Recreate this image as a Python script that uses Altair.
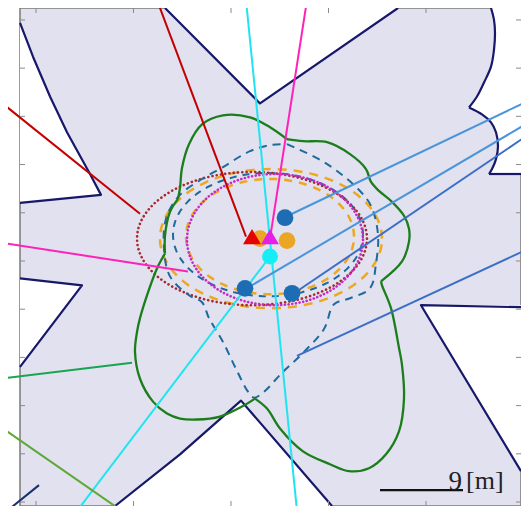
import altair as alt
import pandas as pd
import numpy as np

# ---------------- data (metres, origin at lower-left corner of frame) ----------------
X_MAX = 50.1
Y_MAX = 50.1

# white notches cut into the lavender free-space region
notch_top_x = [14.5, 24.0, 37.8]
notch_top_y = [50.1, 40.5, 50.1]
notch_bot_x = [9.5, 16.0, 22.1, 31.2]
notch_bot_y = [0.0, 5.2, 10.6, 0.0]
notch_tl_y = [30.5, 31.3, 33.4, 37.6, 41.2, 45.2, 48.6]
notch_tl_x = [0.0, 8.1, 7.0, 4.7, 3.0, 1.3, 0.0]
notch_l_y = [14.0, 22.2, 22.9]
notch_l_x = [0.0, 6.2, 0.0]
notch_r_y = [3.5, 20.2]
notch_r_x = [50.1, 40.1]
notch_tr_y = [33.4, 33.9, 34.9, 36.2, 37.6, 38.6, 39.4, 40.1, 41.2, 42.6, 44.2, 45.9, 47.6, 48.9, 50.1]
notch_tr_x = [46.9, 47.2, 47.6, 47.8, 47.6, 47.1, 46.2, 44.9, 45.7, 46.4, 47.1, 47.4, 47.5, 47.4, 47.1]

# navy boundary polylines of the region
edge_tl_x = [0.0, 1.3, 3.0, 4.7, 7.0, 8.1, 0.0]
edge_tl_y = [48.6, 45.2, 41.2, 37.6, 33.4, 31.3, 30.5]
edge_l_x = [0.0, 6.2, 0.0]
edge_l_y = [22.9, 22.2, 14.0]
edge_b_x = [9.5, 16.0, 22.1, 31.2]
edge_b_y = [0.0, 5.2, 10.6, 0.0]
edge_r_x = [50.1, 40.1, 50.1]
edge_r_y = [20.0, 20.2, 3.5]
edge_t_x = [14.5, 24.0, 37.8]
edge_t_y = [50.1, 40.5, 50.1]
edge_tr1_x = [47.1, 47.4, 47.5, 47.4, 47.1, 46.4, 45.7, 44.9]
edge_tr1_y = [50.1, 48.9, 47.6, 45.9, 44.2, 42.6, 41.2, 40.1]
edge_tr2_x = [44.9, 46.2, 47.1, 47.6, 47.8, 47.6, 47.2, 46.9]
edge_tr2_y = [40.1, 39.4, 38.6, 37.6, 36.2, 34.9, 33.9, 33.4]
edge_tr3_x = [46.9, 50.1]
edge_tr3_y = [33.4, 33.4]

# green flower-shaped contour (closed) and indices of its corners
green_x = [20.3, 23.0, 25.0, 26.7, 28.3, 30.7, 33.0, 34.6, 35.1, 35.9, 37.2, 38.4, 38.9, 38.9, 38.2,
           36.1, 36.2, 37.1, 37.9, 38.2, 38.4, 37.9, 36.6, 34.9, 32.9, 31.0, 28.3, 26.0, 24.7, 23.5,
           22.2, 20.0, 17.7, 16.0, 14.7, 13.3, 12.0, 11.5, 11.7, 12.0, 12.7, 13.7, 14.5, 14.5, 15.0,
           15.8, 16.0, 16.2, 16.9, 18.2, 20.3]
green_y = [39.3, 39.1, 38.1, 36.9, 36.7, 36.6, 35.4, 33.9, 32.6, 31.7, 30.6, 29.2, 27.9, 26.6, 24.6,
           22.6, 22.2, 19.9, 15.9, 14.2, 10.8, 7.5, 5.2, 3.8, 3.5, 4.2, 5.5, 7.8, 9.8, 10.8,
           10.0, 9.0, 8.7, 8.8, 9.3, 10.5, 12.8, 15.5, 17.5, 18.9, 21.2, 23.9, 25.4, 27.2, 29.6,
           30.9, 32.0, 34.0, 36.4, 38.4, 39.3]
green_corners = [3, 15, 29, 42, 45]

# blue dashed contour with lower lobe
bluec_x = [26.7, 29.7, 31.7, 33.8, 35.1, 35.8, 35.6, 35.0, 33.0, 31.4, 30.4, 28.4, 26.3, 24.3, 23.4,
           22.8, 21.6, 20.3, 18.9, 18.2, 16.9, 15.0, 14.4, 14.6, 15.9, 18.2, 20.3, 23.0, 25.0, 26.7]
bluec_y = [36.4, 35.0, 33.7, 31.9, 30.2, 27.3, 24.4, 21.9, 20.9, 20.3, 17.8, 15.5, 13.5, 11.4, 10.9,
           11.5, 13.8, 16.5, 18.9, 20.5, 21.2, 23.1, 25.9, 28.9, 31.2, 32.9, 34.1, 35.7, 36.3, 36.4]

# uncertainty ellipses: centre and semi-axes
ell_names = ["blue_in", "orange_in", "orange_out", "red", "magenta"]
ell_cx = [24.8, 25.0, 25.1, 23.2, 25.5]
ell_cy = [27.3, 27.1, 26.9, 26.9, 26.8]
ell_rx = [9.5, 8.4, 11.1, 11.5, 8.8]
ell_ry = [6.2, 5.8, 7.0, 6.7, 6.6]

# leader lines: start and end
lead_names = ["red_top", "red_left", "mag_top", "mag_left", "cyan_vert", "cyan_diag",
              "green", "lime", "blue1", "blue2", "blue3", "blue4", "stub"]
lead_x0 = [22.6, -2.0, 25.0, -2.0, 22.6, 25.0, -2.0, -2.0, 27.0, 23.0, 27.7, 27.7, -1.3]
lead_y0 = [27.1, 40.7, 26.9, 26.5, 50.9, 25.1, 12.8, 8.0, 29.3, 22.1, 21.6, 15.1, -0.5]
lead_x1 = [13.7, 12.0, 28.7, 16.8, 27.7, 5.7, 11.2, 10.2, 50.9, 50.9, 50.9, 50.9, 1.9]
lead_y1 = [50.9, 29.4, 50.9, 23.6, -0.5, -0.5, 14.4, -0.5, 40.8, 38.6, 37.4, 25.9, 2.1]

# markers
blue_dot_x = [26.5, 22.5, 27.2]
blue_dot_y = [29.0, 21.9, 21.4]
orange_dot_x = [24.0, 26.7]
orange_dot_y = [26.9, 26.7]
red_tri_x, red_tri_y = [23.2], [27.1]
mag_tri_x, mag_tri_y = [25.0], [27.1]
cyan_dot_x, cyan_dot_y = [25.0], [25.1]

# scale bar
bar_x = [36.0, 44.3]
bar_y = [1.6, 1.6]
bar_label_num = "9"
bar_label_unit = "[m]"

# frame ticks
xticks = [1.6, 11.35, 21.1, 30.85, 40.6]
yticks = [48.9, 44.05, 39.2, 34.35, 29.5, 24.65, 19.8, 14.95, 10.1, 5.25, 0.4]

# ---------------- helpers ----------------
xs = alt.Scale(domain=[0, X_MAX], nice=False, zero=False)
ys = alt.Scale(domain=[0, Y_MAX], nice=False, zero=False)


def X(f="x"):
    return alt.X(f"{f}:Q", scale=xs, axis=None)


def Y(f="y"):
    return alt.Y(f"{f}:Q", scale=ys, axis=None)


def poly_df(xv, yv):
    return pd.DataFrame({"x": list(xv), "y": list(yv), "i": range(len(xv))})


def line_layer(df, color, width=2.0, dash=None, cap="butt", interp="linear", detail=False):
    kw = dict(color=color, strokeWidth=width, strokeCap=cap, clip=False, interpolate=interp,
              strokeJoin="round")
    if dash is not None:
        kw["strokeDash"] = dash
    enc = dict(x=X(), y=Y(), order="i:Q")
    if detail:
        enc["detail"] = "seg:N"
    return alt.Chart(df).mark_line(**kw).encode(**enc)


NAVY = "#17186a"
WHITE = "#ffffff"

layers = []

# white notches
layers.append(alt.Chart(pd.DataFrame({"x": notch_top_x, "y": notch_top_y})).mark_area(
    color=WHITE, opacity=1).encode(x=X(), y=Y(), y2=alt.datum(Y_MAX)))
layers.append(alt.Chart(pd.DataFrame({"x": notch_bot_x, "y": notch_bot_y})).mark_area(
    color=WHITE, opacity=1).encode(x=X(), y=Y(), y2=alt.datum(0)))
for nx, ny, base, ip in [(notch_tl_x, notch_tl_y, 0, "linear"), (notch_l_x, notch_l_y, 0, "linear"),
                         (notch_r_x, notch_r_y, X_MAX, "linear"), (notch_tr_x, notch_tr_y, X_MAX, "linear")]:
    layers.append(alt.Chart(pd.DataFrame({"x": nx, "y": ny})).mark_area(
        color=WHITE, opacity=1, orient="horizontal", interpolate=ip).encode(x=X(), y=Y(), x2=alt.datum(base)))

# navy edges
for ex, ey, ip in [(edge_tl_x, edge_tl_y, "linear"), (edge_l_x, edge_l_y, "linear"),
                   (edge_b_x, edge_b_y, "linear"), (edge_r_x, edge_r_y, "linear"),
                   (edge_t_x, edge_t_y, "linear"), (edge_tr1_x, edge_tr1_y, "catmull-rom"),
                   (edge_tr2_x, edge_tr2_y, "catmull-rom"), (edge_tr3_x, edge_tr3_y, "linear")]:
    layers.append(line_layer(poly_df(ex, ey), NAVY, 2.2, interp=ip))

# ellipses
ell_style = {
    "blue_in": dict(color="#1f6a9c", width=2.0, dash=[7, 6], cap="butt"),
    "orange_in": dict(color="#eda822", width=2.5, dash=[8, 7], cap="butt"),
    "orange_out": dict(color="#eda822", width=2.5, dash=[9, 7], cap="butt"),
    "red": dict(color="#a82a2e", width=2.6, dash=[0.1, 4.2], cap="round"),
    "magenta": dict(color="#c62ac6", width=2.6, dash=[0.1, 3.6], cap="round"),
}
t = np.linspace(0, 2 * np.pi, 121)
for name, cx, cy, rx, ry in zip(ell_names, ell_cx, ell_cy, ell_rx, ell_ry):
    df = poly_df(cx + rx * np.cos(t), cy + ry * np.sin(t))
    s = ell_style[name]
    layers.append(line_layer(df, s["color"], s["width"], s["dash"], s["cap"]))

# blue dashed contour
layers.append(line_layer(poly_df(bluec_x, bluec_y), "#1f6a9c", 2.0, [8, 6], interp="catmull-rom"))

# green contour split at its corners, each piece smoothed
n_g = len(green_x) - 1
rows = []
for k, c0 in enumerate(green_corners):
    c1 = green_corners[(k + 1) % len(green_corners)]
    idx = []
    j = c0
    while True:
        idx.append(j)
        if j == c1 and len(idx) > 1:
            break
        j = (j + 1) % n_g
    for m, j in enumerate(idx):
        rows.append({"seg": f"g{k}", "i": m, "x": green_x[j], "y": green_y[j]})
layers.append(line_layer(pd.DataFrame(rows), "#1b7d1b", 2.3, interp="catmull-rom", detail=True))

# leader lines
lead_colors = {
    "red_top": "#c40000", "red_left": "#c40000", "mag_top": "#ff22b8", "mag_left": "#ff22b8",
    "cyan_vert": "#22e4f0", "cyan_diag": "#22e4f0", "green": "#16a650", "lime": "#5da834",
    "blue1": "#4a95da", "blue2": "#4a95da", "blue3": "#3b6fc6", "blue4": "#3b6fc6",
    "stub": "#14306e",
}
rows = []
for n, a, b, c, d in zip(lead_names, lead_x0, lead_y0, lead_x1, lead_y1):
    rows.append({"seg": n, "i": 0, "x": a, "y": b})
    rows.append({"seg": n, "i": 1, "x": c, "y": d})
lead_df = pd.DataFrame(rows)
layers.append(alt.Chart(lead_df).mark_line(strokeWidth=2.0, clip=False).encode(
    x=X(), y=Y(), order="i:Q", detail="seg:N",
    color=alt.Color("seg:N", scale=alt.Scale(domain=list(lead_colors.keys()),
                                             range=list(lead_colors.values())), legend=None)))

# markers
layers.append(alt.Chart(pd.DataFrame({"x": blue_dot_x, "y": blue_dot_y})).mark_circle(
    color="#1c6db4", opacity=1, size=280).encode(x=X(), y=Y()))
layers.append(alt.Chart(pd.DataFrame({"x": orange_dot_x, "y": orange_dot_y})).mark_circle(
    color="#eaa624", opacity=1, size=280).encode(x=X(), y=Y()))
layers.append(alt.Chart(pd.DataFrame({"x": red_tri_x, "y": red_tri_y})).mark_point(
    shape="triangle-up", filled=True, color="#e60000", opacity=1, size=320).encode(x=X(), y=Y()))
layers.append(alt.Chart(pd.DataFrame({"x": mag_tri_x, "y": mag_tri_y})).mark_point(
    shape="triangle-up", filled=True, color="#e61ee6", opacity=1, size=320).encode(x=X(), y=Y()))
layers.append(alt.Chart(pd.DataFrame({"x": cyan_dot_x, "y": cyan_dot_y})).mark_circle(
    color="#16eef6", opacity=1, size=250).encode(x=X(), y=Y()))

# scale bar
layers.append(line_layer(poly_df(bar_x, bar_y), "#111111", 2.4))
layers.append(alt.Chart(pd.DataFrame({"x": [bar_x[1] - 0.1], "y": [bar_y[0] + 0.05], "t": [bar_label_num]})).mark_text(
    align="right", baseline="alphabetic", font="Liberation Serif", fontSize=27, color="#222222").encode(
    x=X(), y=Y(), text="t:N"))
layers.append(alt.Chart(pd.DataFrame({"x": [bar_x[1] + 0.3], "y": [bar_y[0] + 0.15], "t": [bar_label_unit]})).mark_text(
    align="left", baseline="alphabetic", font="Liberation Serif", fontSize=26, color="#222222").encode(
    x=X(), y=Y(), text="t:N"))

# frame ticks (inward)
TICK = "#8a8a8a"
xt = pd.DataFrame({"x": xticks})
yt = pd.DataFrame({"y": yticks})
layers.append(alt.Chart(xt).mark_rule(color=TICK, strokeWidth=1).encode(x=X(), y=alt.value(0), y2=alt.value(5)))
layers.append(alt.Chart(xt).mark_rule(color=TICK, strokeWidth=1).encode(x=X(), y=alt.value(498), y2=alt.value(493)))
layers.append(alt.Chart(yt).mark_rule(color=TICK, strokeWidth=1).encode(y=Y(), x=alt.value(0), x2=alt.value(5)))
layers.append(alt.Chart(yt).mark_rule(color=TICK, strokeWidth=1).encode(y=Y(), x=alt.value(501), x2=alt.value(496)))

chart = alt.layer(*layers).properties(
    width=501, height=498,
    autosize=alt.AutoSizeParams(type="none"),
    padding={"left": 12, "top": 0, "right": 0, "bottom": 0},
).configure_view(
    fill="#e1e1ef", stroke="#7a7a7a", strokeWidth=1.5
)

chart.save("out.html", embed_options={"renderer": "svg", "actions": False})
